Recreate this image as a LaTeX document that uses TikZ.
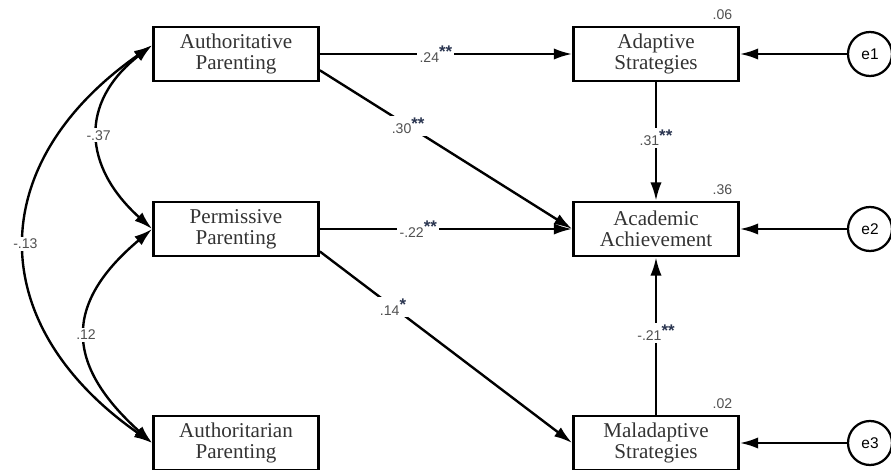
\documentclass[tikz,border=0pt]{standalone}
\usepackage{fontspec}
\setmainfont{Liberation Serif}
\newfontfamily\coeffont{Liberation Sans}
\usetikzlibrary{arrows.meta,positioning}
\definecolor{coefgray}{HTML}{505050}
\definecolor{stargray}{HTML}{2A3550}
\tikzset{%
	block/.style  = {draw, rectangle, line width=1.9pt, minimum width=4.125cm, minimum height=1.35cm, align=center, font=\fontsize{15}{15}\selectfont, text=black!80},
	resid/.style  = {draw, circle, line width=1.6pt, minimum size=1.1cm, inner sep=0pt, font=\coeffont\fontsize{11}{12}\selectfont}, % error term
	coef/.style   = {fill=white, inner sep=1.5pt, font=\coeffont\fontsize{10}{12}\selectfont, text=coefgray}, % path weight
	rsq/.style    = {inner sep=1pt, font=\coeffont\fontsize{10}{12}\selectfont, text=coefgray}, % explained variance
	effect/.style = {line width=1.7pt, -{Latex[length=13pt,width=8pt]}},
	corr/.style   = {line width=1.7pt, {Latex[length=13pt,width=8pt]}-{Latex[length=13pt,width=8pt]}},
}
\newcommand{\sig}[1]{\raisebox{0.6ex}{\fontsize{12}{12}\selectfont\textcolor{stargray}{\textbf{#1}}}}

\begin{document}
\begin{tikzpicture}[node distance = 4.375cm]
	\useasboundingbox (0,0) rectangle (22.275,-11.75);
	\node[block] (auth) at (5.9,-1.35) {Authoritative\\Parenting};
	\node[block,below of=auth] (perm) {Permissive\\Parenting};
	\node[block,below of=perm,node distance = 5.35cm] (autr) {Authoritarian\\Parenting};
	\node[block,right of=auth,node distance = 10.5cm] (adap) {Adaptive\\Strategies};
	\node[block,right of=perm,node distance = 10.5cm] (acad) {Academic\\Achievement};
	\node[block,right of=autr,node distance = 10.5cm] (mal) {Maladaptive\\Strategies};
	\node[resid,right of=adap,node distance = 5.35cm] (e1) {e1};
	\node[resid,right of=acad,node distance = 5.35cm] (e2) {e2};
	\node[resid,right of=mal,node distance = 5.35cm] (e3) {e3};
	\node[rsq,above left=0.12cm and 0.15cm of adap.north east] (r2adap) {.06};
	\node[rsq,above left=0.12cm and 0.15cm of acad.north east] (r2acad) {.36};
	\node[rsq,above left=0.12cm and 0.15cm of mal.north east] (r2mal) {.02};
	
	\draw[effect] (auth) -- node[coef,pos=0.46] {.24\sig{**}} (adap);
	\draw[effect] (auth.-11) -- node[coef,pos=0.35] {.30\sig{**}} (acad.west);
	\draw[effect] (perm) -- node[coef,pos=0.39] {-.22\sig{**}} (acad);
	\draw[effect] (perm.-15) -- node[coef,pos=0.29] {.14\sig{*}} (mal.west);
	\draw[effect] (adap) -- node[coef,pos=0.47] {.31\sig{**}} (acad);
	\draw[effect] (mal) -- node[coef,pos=0.52] {-.21\sig{**}} (acad);
	\draw[effect] (e1) -- (adap);
	\draw[effect] (e2) -- (acad);
	\draw[effect] (e3) -- (mal);
	
	% correlations between parenting styles
	\draw[corr] (auth.174) to[out=218,in=138,looseness=1.3] node[coef] {-.37} (perm.west);
	\draw[corr] (auth.174) to[out=215,in=145,looseness=1.33] node[coef] {-.13} (autr.west);
	\draw[corr] (perm.west) to[out=220,in=138,looseness=1.4] node[coef] {.12} (autr.west);
\end{tikzpicture}
\end{document}
